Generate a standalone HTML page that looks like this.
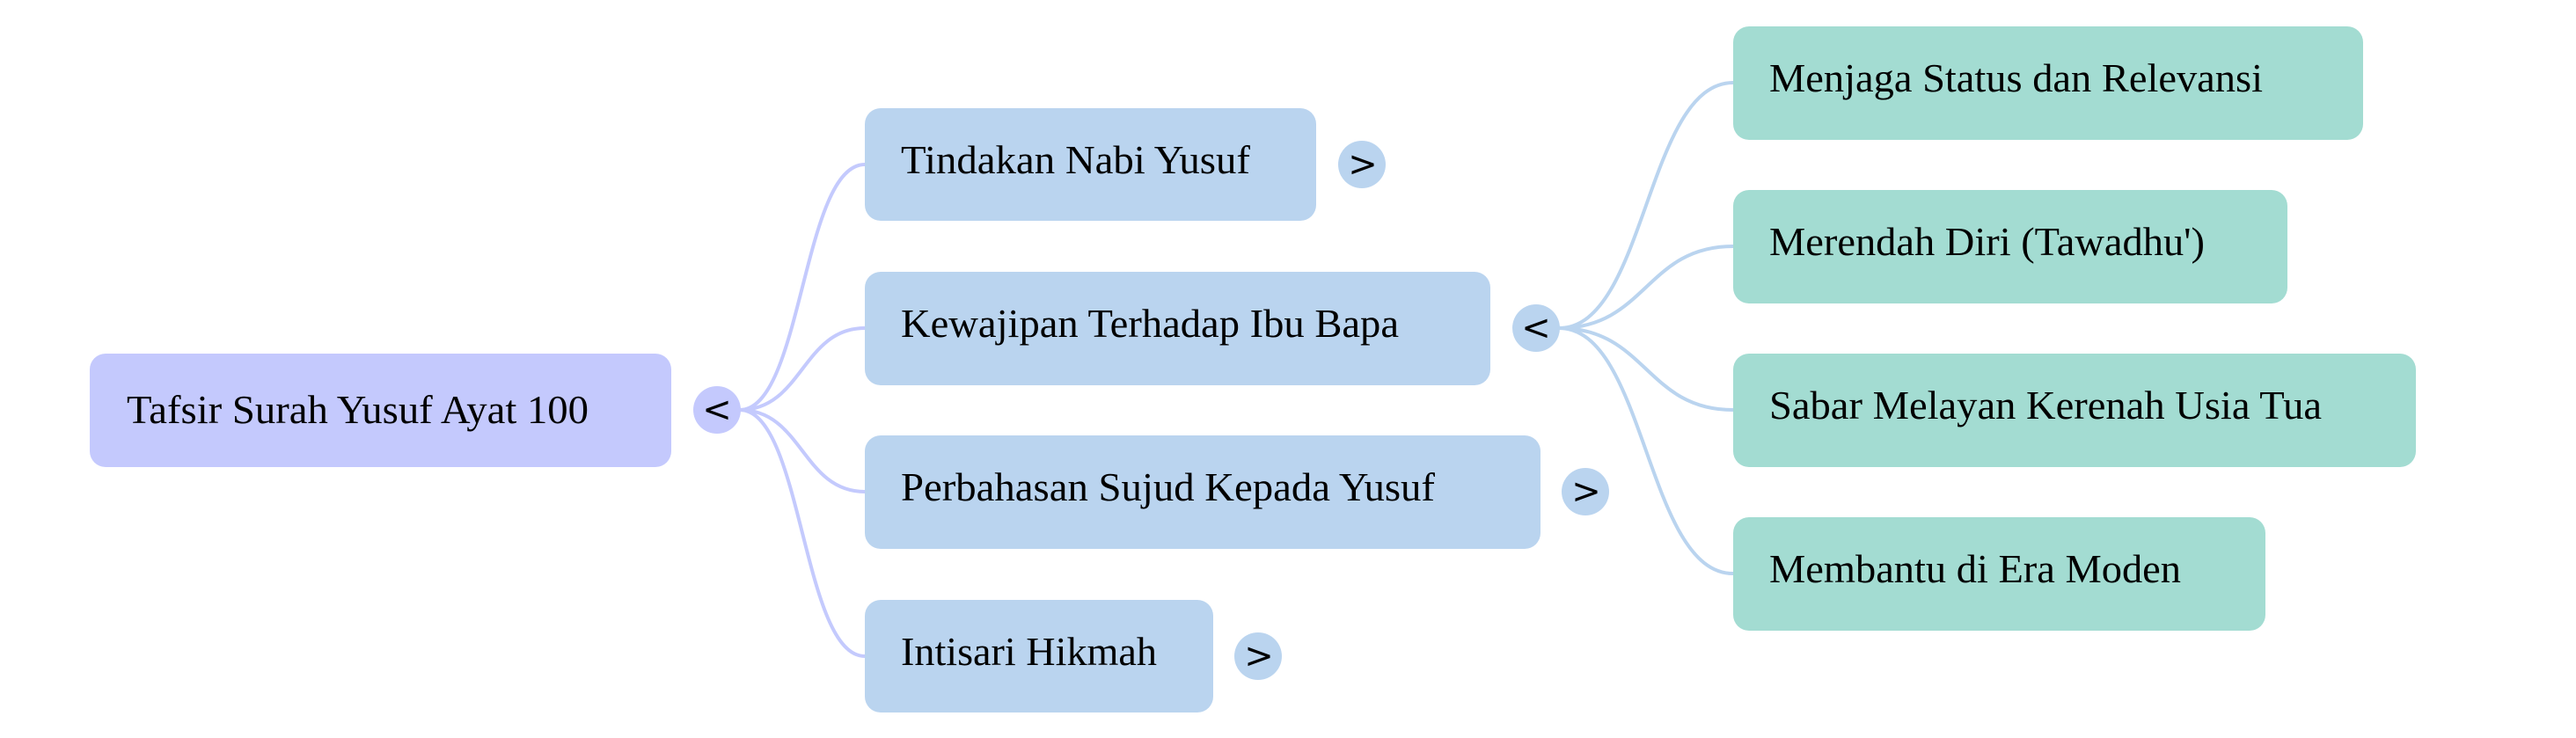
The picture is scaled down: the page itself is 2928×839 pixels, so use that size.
<!DOCTYPE html>
<html><head><meta charset="utf-8"><style>
html,body{margin:0;padding:0;background:#fff;}
svg{display:block;}
.t{font-family:"Liberation Serif",serif;font-size:46px;fill:#000;}
.g{font-family:"DejaVu Sans","Liberation Sans",sans-serif;font-size:40px;fill:#000;text-anchor:middle;}
</style></head><body>
<svg width="2928" height="839" viewBox="0 0 2928 839" xmlns="http://www.w3.org/2000/svg">
<g fill="none" stroke="#c4cafd" stroke-width="4">
<path d="M841 466 C912 466 912 187 983 187"/>
<path d="M841 466 C912 466 912 373 983 373"/>
<path d="M841 466 C912 466 912 559 983 559"/>
<path d="M841 466 C912 466 912 746 983 746"/>
</g>
<g fill="none" stroke="#bad4ef" stroke-width="4">
<path d="M1772 373 C1871 373 1871 94 1970 94"/>
<path d="M1772 373 C1871 373 1871 280 1970 280"/>
<path d="M1772 373 C1871 373 1871 466 1970 466"/>
<path d="M1772 373 C1871 373 1871 652 1970 652"/>
</g>
<rect x="102" y="402" width="661" height="129" rx="18" fill="#c4c9fd"/>
<text class="t" x="144" y="481" textLength="525" lengthAdjust="spacingAndGlyphs">Tafsir Surah Yusuf Ayat 100</text>
<circle cx="815" cy="466" r="27" fill="#c4c9fd"/>
<text class="g" x="815" y="479">&lt;</text>

<g fill="#bad4ef">
<rect x="983" y="123" width="513" height="128" rx="18"/>
<rect x="983" y="309" width="711" height="129" rx="18"/>
<rect x="983" y="495" width="768" height="129" rx="18"/>
<rect x="983" y="682" width="396" height="128" rx="18"/>
<circle cx="1548" cy="187" r="27"/>
<circle cx="1746" cy="373" r="27"/>
<circle cx="1802" cy="559" r="27"/>
<circle cx="1430" cy="746" r="27"/>
</g>
<text class="t" x="1024" y="197" textLength="397" lengthAdjust="spacingAndGlyphs">Tindakan Nabi Yusuf</text>
<text class="t" x="1024" y="383" textLength="566" lengthAdjust="spacingAndGlyphs">Kewajipan Terhadap Ibu Bapa</text>
<text class="t" x="1024" y="569" textLength="607" lengthAdjust="spacingAndGlyphs">Perbahasan Sujud Kepada Yusuf</text>
<text class="t" x="1024" y="756" textLength="291" lengthAdjust="spacingAndGlyphs">Intisari Hikmah</text>
<text class="g" x="1549" y="200">&gt;</text>
<text class="g" x="1746" y="386">&lt;</text>
<text class="g" x="1803" y="572">&gt;</text>
<text class="g" x="1431" y="759">&gt;</text>

<g fill="#a3dcd2">
<rect x="1970" y="30" width="716" height="129" rx="18"/>
<rect x="1970" y="216" width="630" height="129" rx="18"/>
<rect x="1970" y="402" width="776" height="129" rx="18"/>
<rect x="1970" y="588" width="605" height="129" rx="18"/>
</g>
<text class="t" x="2011" y="104" textLength="561" lengthAdjust="spacingAndGlyphs">Menjaga Status dan Relevansi</text>
<text class="t" x="2011" y="290" textLength="495" lengthAdjust="spacingAndGlyphs">Merendah Diri (Tawadhu')</text>
<text class="t" x="2011" y="476" textLength="628" lengthAdjust="spacingAndGlyphs">Sabar Melayan Kerenah Usia Tua</text>
<text class="t" x="2011" y="662" textLength="468" lengthAdjust="spacingAndGlyphs">Membantu di Era Moden</text>
</svg>
</body></html>
